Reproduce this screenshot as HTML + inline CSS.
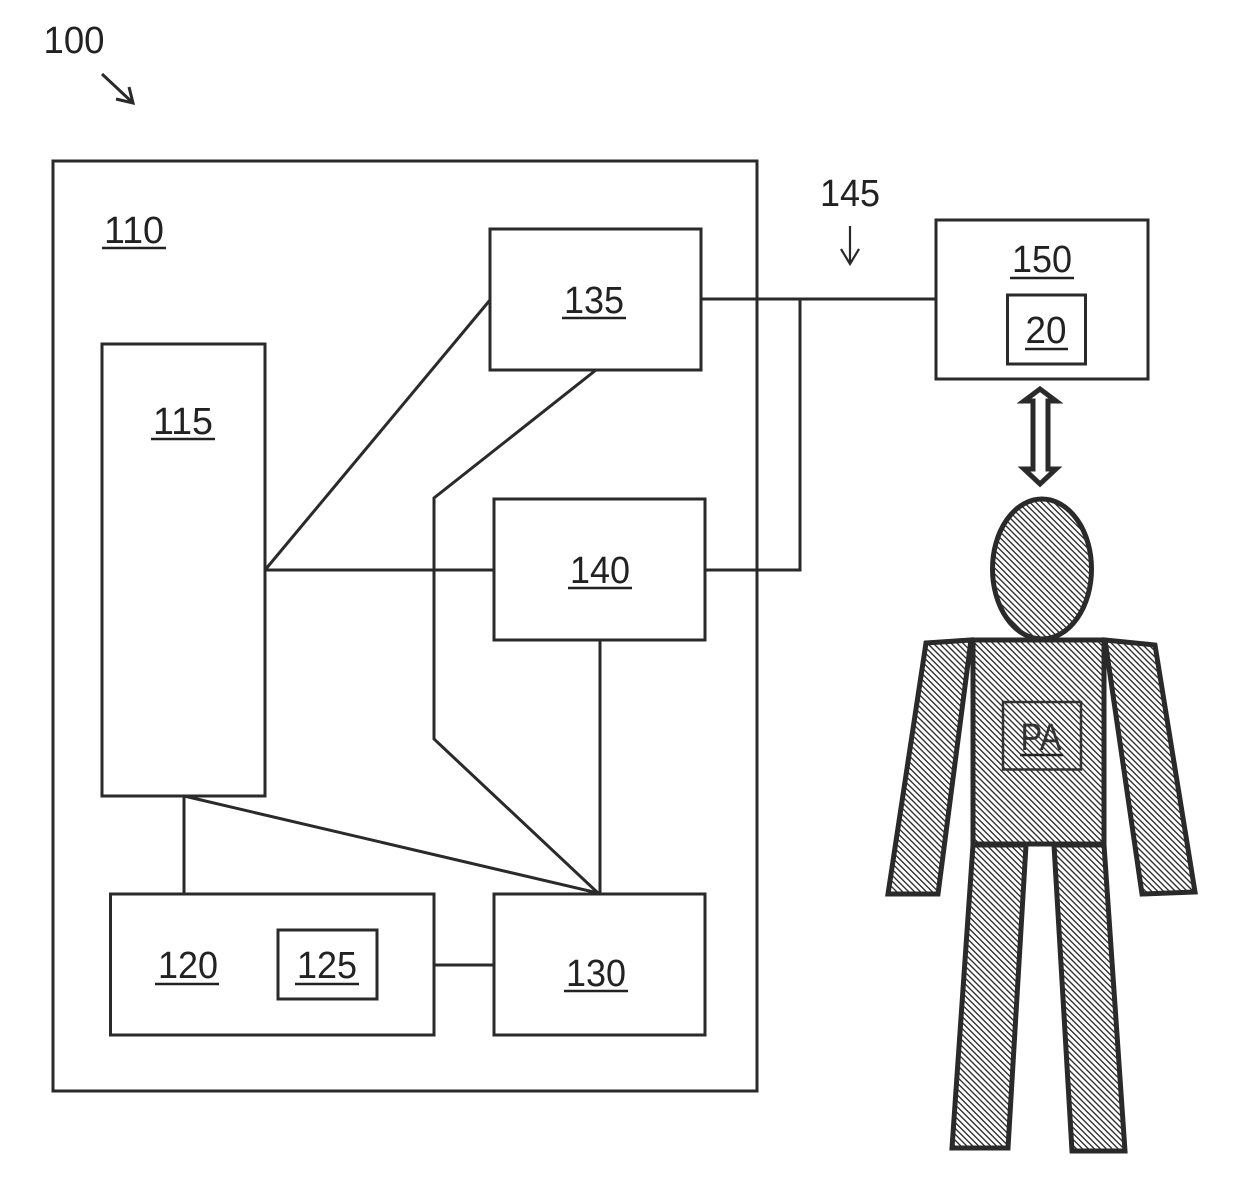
<!DOCTYPE html>
<html><head><meta charset="utf-8"><style>
html,body{margin:0;padding:0;background:#fff}
svg{display:block}
text{font-family:"Liberation Sans",sans-serif;font-size:38px;fill:#222;text-anchor:middle}
</style></head><body>
<svg width="1240" height="1197" viewBox="0 0 1240 1197" xmlns="http://www.w3.org/2000/svg">
<defs>
<pattern id="h" patternUnits="userSpaceOnUse" width="4.2" height="4.2" patternTransform="rotate(45)">
<rect width="4.2" height="4.2" fill="#fff"/><rect x="0" y="0" width="4.2" height="1.4" fill="#333"/>
</pattern>
</defs>
<g fill="none" stroke="#2a2a2a" stroke-width="3">
<rect x="53" y="161" width="704" height="930"/>
<rect x="102" y="344" width="163" height="452"/>
<rect x="490" y="229" width="211" height="141"/>
<rect x="494" y="499" width="211" height="141"/>
<rect x="110.500" y="894" width="323.500" height="141"/>
<rect x="278" y="930" width="99" height="69"/>
<rect x="494" y="894" width="211" height="141"/>
<rect x="936" y="220" width="212" height="159"/>
<rect x="1007.500" y="295" width="78" height="69"/>
<polyline points="265,570 490,300"/>
<line x1="265" y1="570" x2="494" y2="570"/>
<polyline points="596,370 434,498 434,739 598,893"/>
<line x1="600" y1="640" x2="600" y2="894"/>
<line x1="184" y1="796" x2="598" y2="893"/>
<line x1="184" y1="796" x2="184" y2="894"/>
<line x1="434" y1="965" x2="494" y2="965"/>
<line x1="701" y1="299" x2="936" y2="299"/>
<polyline points="705,570 800,570 800,299"/>
</g>
<g fill="none" stroke="#2a2a2a" stroke-width="2.200">
<line x1="850" y1="226" x2="850" y2="264"/>
<polyline points="841,249 850,264 859,249"/>
</g>
<g fill="none" stroke="#2a2a2a" stroke-width="3">
<line x1="102" y1="74" x2="133" y2="103"/>
<polyline points="116,99 133,103 129,87"/>
</g>
<g stroke="#2a2a2a" stroke-width="5" fill="url(#h)" stroke-linejoin="miter">
<polygon points="926,643 971,640 938,894 888,894"/>
<polygon points="1105,640 1155,645 1195,892 1142,894"/>
<polygon points="973,845 1026,845 1008,1148 952,1148"/>
<polygon points="1054,845 1104,845 1125,1151 1072,1151"/>
<ellipse cx="1042" cy="569" rx="49.500" ry="70"/>
<rect x="973" y="640" width="131" height="204"/>
</g>
<rect x="1003" y="702" width="78" height="67.500" fill="none" stroke="#333" stroke-width="2.500"/>
<polygon points="1040,389 1056,401 1048,401 1048,469 1056,469 1040,484 1024,469 1033,469 1033,401 1024,401" fill="#fff" stroke="#2a2a2a" stroke-width="5"/>
<text x="74" y="53" textLength="61" lengthAdjust="spacingAndGlyphs">100</text>
<text x="134" y="243" textLength="60" lengthAdjust="spacingAndGlyphs">110</text>
<text x="183" y="434" textLength="60" lengthAdjust="spacingAndGlyphs">115</text>
<text x="594" y="313" textLength="60" lengthAdjust="spacingAndGlyphs">135</text>
<text x="600" y="583" textLength="60" lengthAdjust="spacingAndGlyphs">140</text>
<text x="188" y="978" textLength="60" lengthAdjust="spacingAndGlyphs">120</text>
<text x="327" y="978" textLength="60" lengthAdjust="spacingAndGlyphs">125</text>
<text x="596" y="986" textLength="60" lengthAdjust="spacingAndGlyphs">130</text>
<text x="850" y="206" textLength="60" lengthAdjust="spacingAndGlyphs">145</text>
<text x="1042" y="272" textLength="60" lengthAdjust="spacingAndGlyphs">150</text>
<text x="1046" y="343" textLength="41" lengthAdjust="spacingAndGlyphs">20</text>
<text x="1041" y="750" textLength="41" lengthAdjust="spacingAndGlyphs" style="fill:#333">PA</text>
<g stroke="#222" stroke-width="2.500">
<line x1="102" y1="248" x2="166" y2="248"/>
<line x1="151" y1="439" x2="215" y2="439"/>
<line x1="562" y1="318" x2="626" y2="318"/>
<line x1="568" y1="588" x2="632" y2="588"/>
<line x1="155" y1="984" x2="219" y2="984"/>
<line x1="295" y1="984" x2="359" y2="984"/>
<line x1="564" y1="991" x2="628" y2="991"/>
<line x1="1010" y1="278" x2="1074" y2="278"/>
<line x1="1025" y1="349" x2="1068" y2="349"/>
<line x1="1020" y1="755" x2="1063" y2="755"/>
</g>
</svg>
</body></html>
